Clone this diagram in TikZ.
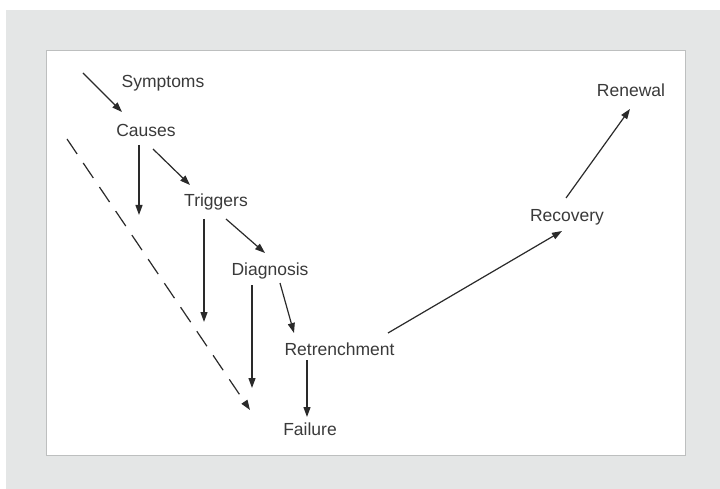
\documentclass[tikz,border=0pt]{standalone}
\usepackage{fontspec}
\setmainfont{Liberation Sans}
\usetikzlibrary{calc,arrows.meta}
\definecolor{matte}{HTML}{E4E6E6}
\definecolor{frame}{HTML}{BDBFBF}
\definecolor{ink}{HTML}{2A2A2A}
\definecolor{label}{HTML}{3A3A3A}
\begin{document}
\begin{tikzpicture}[x=1pt,y=-1pt,
  stage/.style={anchor=base,inner sep=0pt,text=label,font=\fontsize{17.5}{20}\selectfont},
  flow/.style={draw=ink,line width=1.2pt,-{Triangle[length=10pt,width=7pt]}},
  decline/.style={flow,dash pattern=on 18pt off 11pt}]
  % page, matte and white panel
  \fill[white] (0,0) rectangle (720,489);
  \useasboundingbox (0,0) rectangle (720,489);
  \fill[matte] (6,10) rectangle (720,489);
  \filldraw[fill=white,draw=frame,line width=1pt] (46,51) rectangle (685,455);

  % stages of the turnaround
  \node[stage] (symptoms)     at (163,88)    {Symptoms};
  \node[stage] (causes)       at (146,137)   {Causes};
  \node[stage] (triggers)     at (216,207)   {Triggers};
  \node[stage] (diagnosis)    at (270,275)   {Diagnosis};
  \node[stage] (retrenchment) at (339.5,355) {Retrenchment};
  \node[stage] (failure)      at (310,435)   {Failure};
  \node[stage] (recovery)     at (567,222)   {Recovery};
  \node[stage] (renewal)      at (631,97)    {Renewal};

  % loose ends of the connectors
  \coordinate (entry)   at (83,73);
  \coordinate (cdrop)   at (139,215);
  \coordinate (tdrop)   at (204,322);
  \coordinate (ddrop)   at (252,388);
  \coordinate (slide0)  at (67,139);
  \coordinate (slide1)  at (250,410);

  % path down the decline
  \draw[flow] (entry) -- ($(causes.base)+(-24,-25)$);
  \draw[flow] ($(causes.base)+(-7,8)$) -- (cdrop);
  \draw[flow] ($(causes.base)+(7,12)$) -- ($(triggers.base)+(-26,-22)$);
  \draw[flow] ($(triggers.base)+(-12,12)$) -- (tdrop);
  \draw[flow] ($(triggers.base)+(10,12)$) -- ($(diagnosis.base)+(-5,-22)$);
  \draw[flow] ($(diagnosis.base)+(-18,10)$) -- (ddrop);
  \draw[flow] ($(diagnosis.base)+(10,8)$) -- ($(retrenchment.base)+(-45.5,-22)$);
  \draw[flow] ($(retrenchment.base)+(-32.5,5)$) -- ($(failure.base)+(-3,-18)$);
  \draw[decline] (slide0) -- (slide1);

  % path back up
  \draw[flow] ($(retrenchment.base)+(48.5,-22)$) -- ($(recovery.base)+(-5,9)$);
  \draw[flow] ($(recovery.base)+(-1,-24)$) -- ($(renewal.base)+(-1,12)$);
\end{tikzpicture}
\end{document}
